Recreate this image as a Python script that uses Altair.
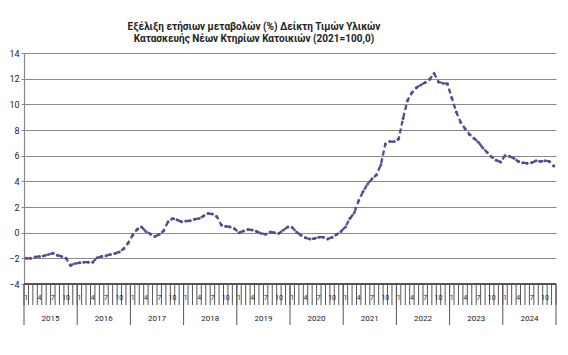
import altair as alt
import pandas as pd

# Annual % change, monthly, Jan 2015 .. Dec 2024
v2015 = [-2.0, -2.0, -1.9, -1.85, -1.8, -1.7, -1.6, -1.75, -1.85, -2.0, -2.55, -2.4]
v2016 = [-2.35, -2.3, -2.3, -2.3, -1.95, -1.85, -1.8, -1.7, -1.62, -1.5, -1.25, -0.8]
v2017 = [-0.2, 0.25, 0.45, 0.1, -0.1, -0.3, -0.15, 0.15, 0.85, 1.1, 1.0, 0.85]
v2018 = [0.9, 0.93, 1.05, 1.1, 1.3, 1.5, 1.45, 1.25, 0.6, 0.5, 0.45, 0.3]
v2019 = [0.0, 0.13, 0.25, 0.2, 0.1, -0.05, -0.13, 0.05, 0.0, -0.05, 0.2, 0.45]
v2020 = [0.4, 0.05, -0.2, -0.4, -0.5, -0.45, -0.35, -0.35, -0.5, -0.35, -0.15, 0.1]
v2021 = [0.45, 1.1, 1.55, 2.5, 3.2, 3.8, 4.2, 4.5, 5.3, 6.9, 7.1, 7.1]
v2022 = [7.3, 8.9, 10.3, 10.9, 11.3, 11.5, 11.7, 11.95, 12.4, 11.75, 11.65, 11.6]
v2023 = [10.5, 9.4, 8.6, 8.1, 7.65, 7.35, 7.05, 6.6, 6.25, 5.9, 5.65, 5.5]
v2024 = [6.0, 5.95, 5.8, 5.55, 5.45, 5.4, 5.45, 5.6, 5.55, 5.6, 5.55, 5.2]

years = [2015, 2016, 2017, 2018, 2019, 2020, 2021, 2022, 2023, 2024]
month_labels = [1, 4, 7, 10]
y_ticks = [-4, -2, 0, 2, 4, 6, 8, 10, 12, 14]
title_lines = [
    "Εξέλιξη ετήσιων μεταβολών (%) Δείκτη Τιμών Υλικών",
    "Κατασκευής Νέων Κτηρίων Κατοικιών (2021=100,0)",
]

series = [v2015, v2016, v2017, v2018, v2019, v2020, v2021, v2022, v2023, v2024]
rows = []
for yi, (yr, vals) in enumerate(zip(years, series)):
    for m, v in enumerate(vals):
        rows.append({"i": yi * 12 + m, "year": yr, "month": m + 1, "value": v})
df = pd.DataFrame(rows)

n = len(df)
W, H = 532, 231
COLOR = "#574b8f"
FONT = "Roboto"

xscale = alt.Scale(domain=[-0.5, n - 0.5], nice=False, zero=False)
yscale = alt.Scale(domain=[-4, 14], nice=False)
yaxis = alt.Axis(
    values=y_ticks,
    format="d",
    grid=True,
    gridColor="#8a8a8a",
    gridWidth=1.2,
    domainColor="#8a8a8a",
    domainWidth=1.2,
    tickColor="#8a8a8a",
    tickSize=3,
    labelPadding=2,
    labelFontSize=9,
    labelFont=FONT,
    labelColor="#222222",
    labelOverlap=False,
    labelFlush=False,
)

base = alt.Chart(df)

line = base.mark_line(color=COLOR, strokeWidth=2.3, strokeDash=[5, 3]).encode(
    x=alt.X("i:Q", scale=xscale, axis=None),
    y=alt.Y("value:Q", scale=yscale, title=None, axis=yaxis),
)

points = base.mark_circle(color=COLOR, size=9, opacity=1).encode(
    x=alt.X("i:Q", scale=xscale, axis=None),
    y=alt.Y("value:Q", scale=yscale, title=None, axis=yaxis),
)

bounds = pd.DataFrame({"b": [j - 0.5 for j in range(n + 1)]})
month_ticks = alt.Chart(bounds).mark_rule(color="#555555", strokeWidth=1).encode(
    x=alt.X("b:Q", scale=xscale, axis=None),
    y=alt.value(H),
    y2=alt.value(H + 21),
)

mlab = df[df["month"].isin(month_labels)]
month_text = alt.Chart(mlab).mark_text(
    fontSize=7, font=FONT, color="#222222", baseline="middle"
).encode(
    x=alt.X("i:Q", scale=xscale, axis=None),
    y=alt.value(H + 14),
    text=alt.Text("month:N"),
)

ydiv = pd.DataFrame({"b": [k * 12 - 0.5 for k in range(len(years) + 1)]})
year_divs = alt.Chart(ydiv).mark_rule(color="#555555", strokeWidth=1).encode(
    x=alt.X("b:Q", scale=xscale, axis=None),
    y=alt.value(H),
    y2=alt.value(H + 41),
)

ylab = pd.DataFrame({"c": [k * 12 + 5.5 for k in range(len(years))], "year": [str(y) for y in years]})
year_text = alt.Chart(ylab).mark_text(
    fontSize=8, font=FONT, color="#222222", baseline="middle"
).encode(
    x=alt.X("c:Q", scale=xscale, axis=None),
    y=alt.value(H + 35),
    text="year:N",
)

axis_line = alt.Chart(ydiv).mark_rule(color="#555555", strokeWidth=1.2).encode(
    x=alt.value(0), x2=alt.value(W), y=alt.value(H)
)

chart = (
    alt.layer(line, points, month_ticks, month_text, year_divs, year_text, axis_line)
    .properties(
        width=W,
        height=H,
        title=alt.TitleParams(
            text=title_lines,
            font=FONT,
            fontSize=10,
            fontWeight="bold",
            color="#222222",
            anchor="middle",
            frame="group",
            dx=-36,
            offset=5,
            lineHeight=12,
        ),
        autosize=alt.AutoSizeParams(type="none"),
        padding={"left": 16, "top": 45, "right": 4, "bottom": 50},
    )
    .configure_view(stroke=None)
)

chart.save("out.html", embed_options={"renderer": "svg", "actions": False})
